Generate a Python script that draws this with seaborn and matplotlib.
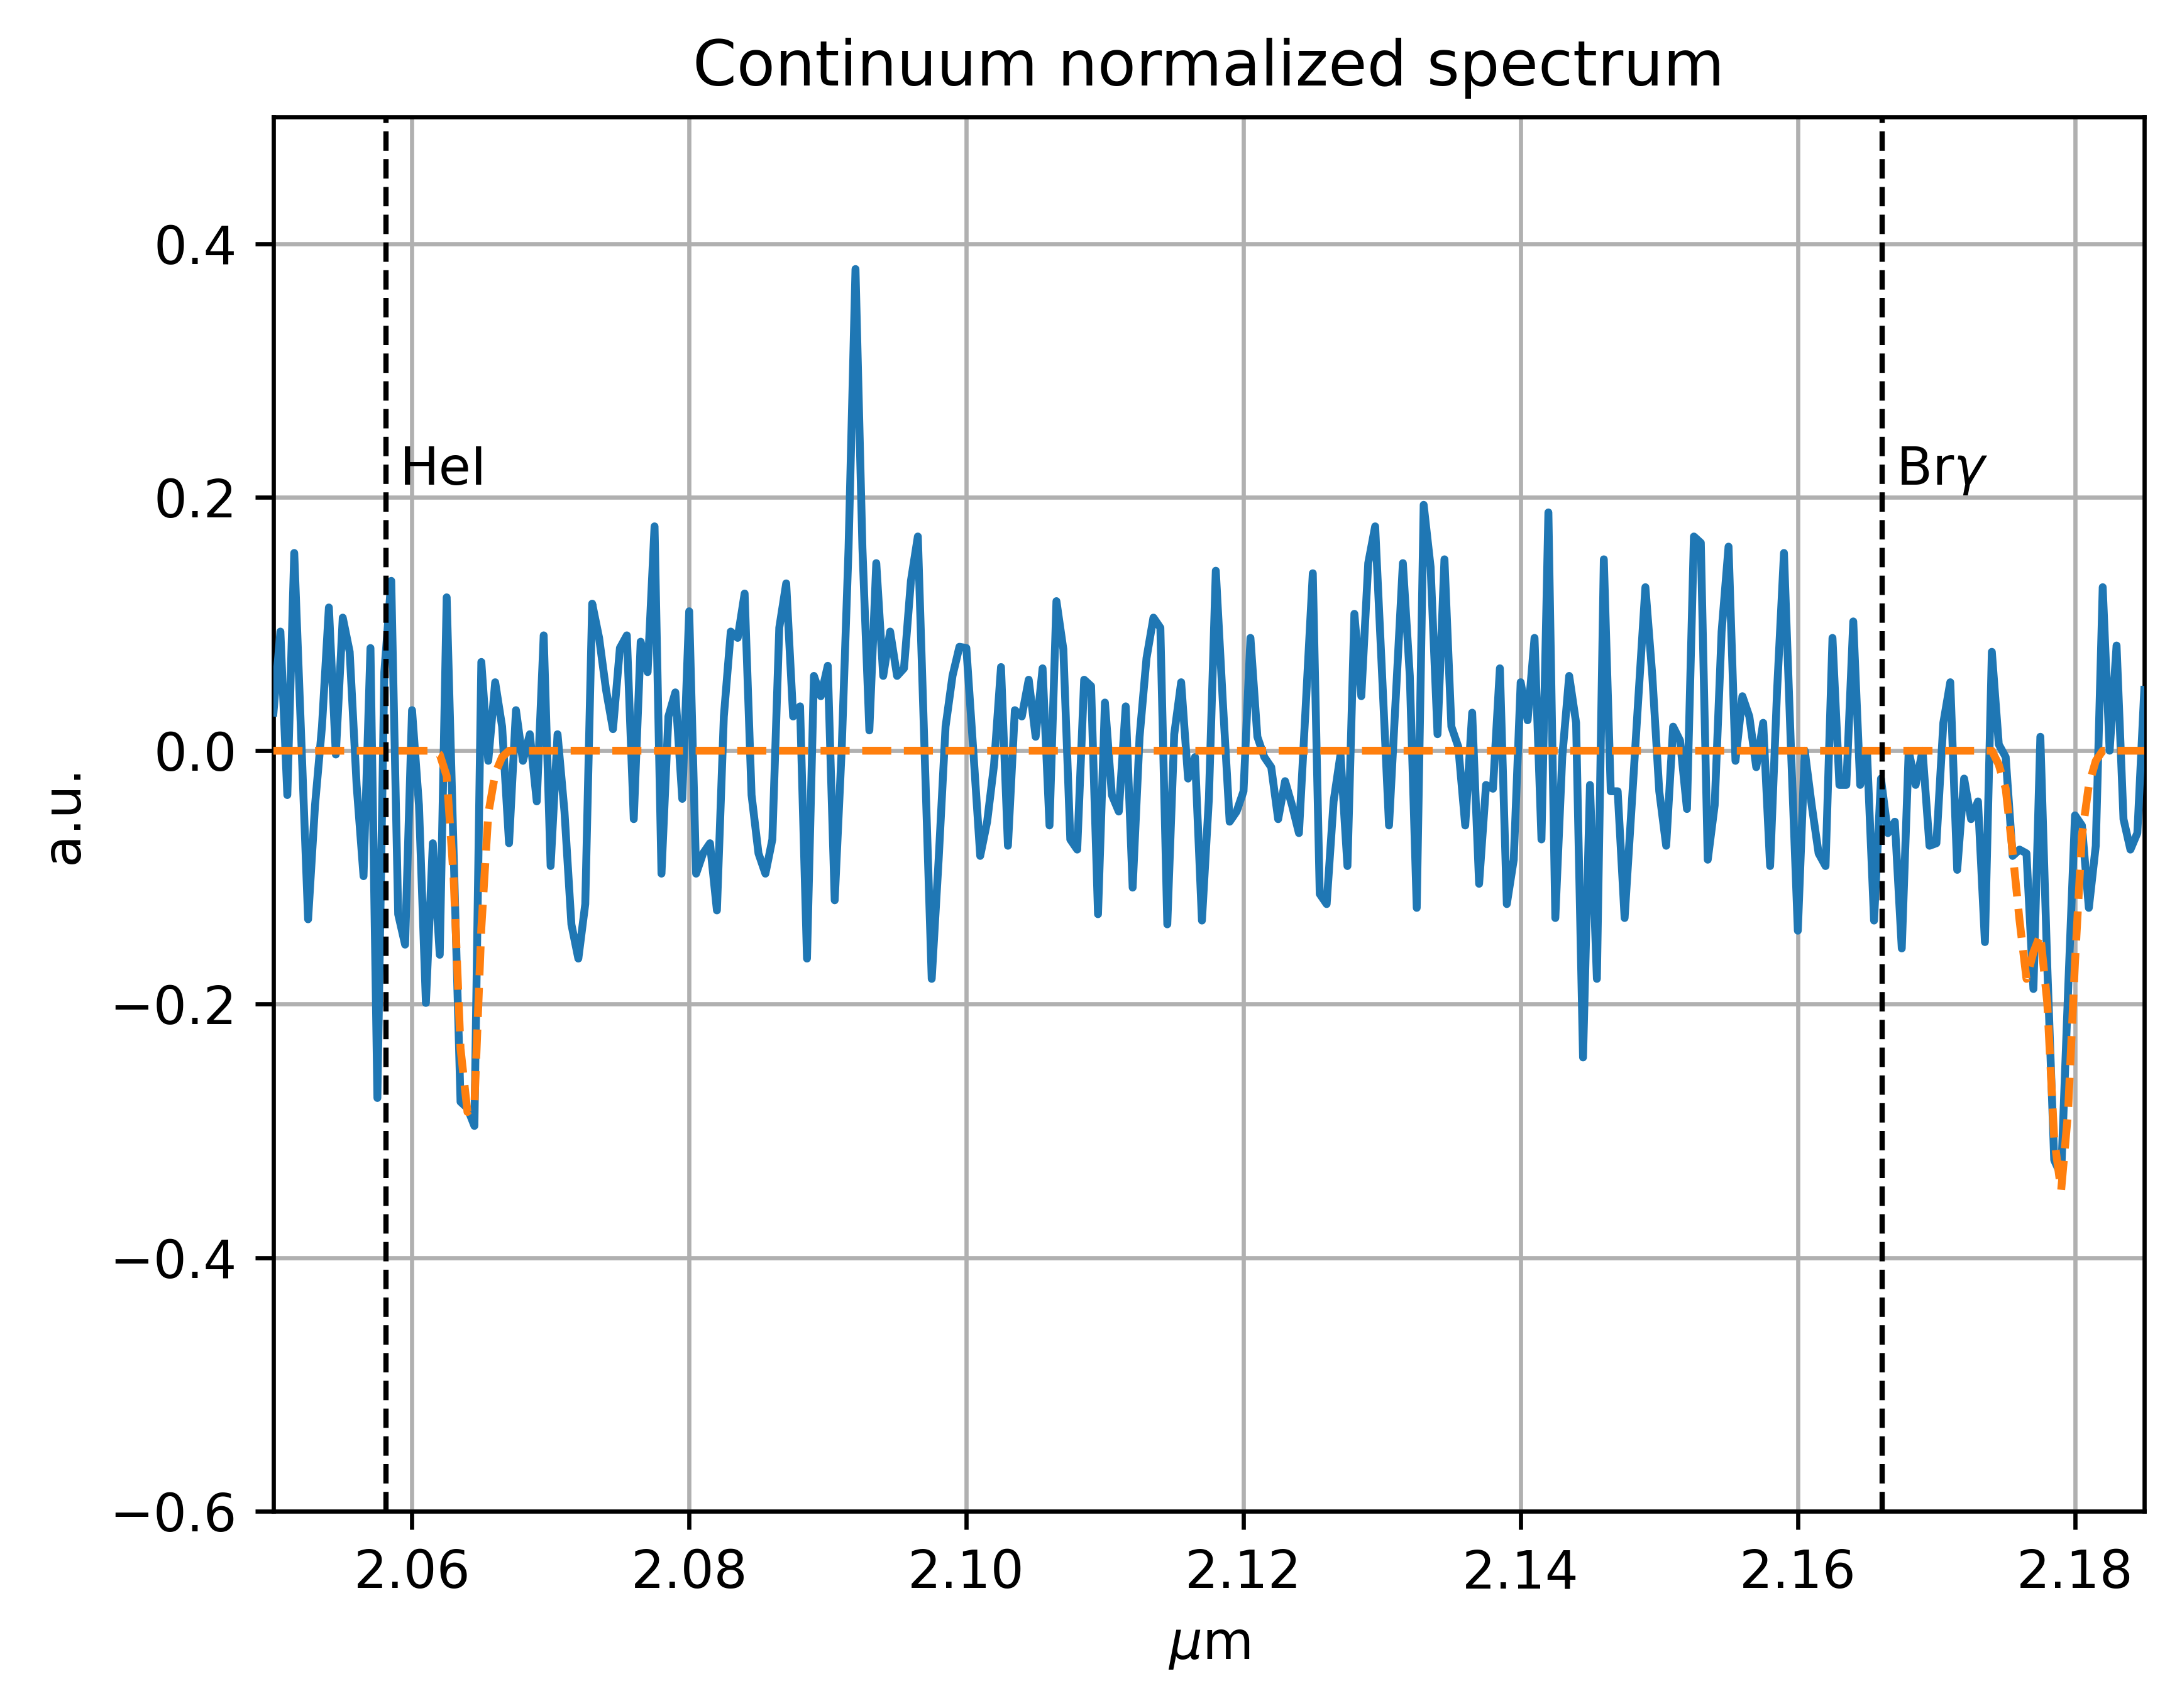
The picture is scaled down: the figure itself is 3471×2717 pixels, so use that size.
import numpy as np
import pandas as pd
import matplotlib
matplotlib.use("Agg")
import matplotlib.pyplot as plt
import seaborn as sns

# wavelength grid: 2.050 .. 2.185 um, step 0.0005
wl_start = 2.050
wl_step = 0.0005

# continuum normalized flux, one value per grid point
flux = [
    0.030, 0.094, -0.035, 0.156, 0.011, -0.133, -0.043, 0.019, 0.113, -0.003,
    0.105, 0.078, -0.027, -0.099, 0.081, -0.274, 0.062, 0.134, -0.129, -0.153,
    0.032, -0.043, -0.199, -0.073, -0.161, 0.121, -0.080, -0.277, -0.282, -0.296,
    0.070, -0.008, 0.054, 0.019, -0.073, 0.032, -0.008, 0.013, -0.040, 0.091,
    -0.091, 0.013, -0.048, -0.137, -0.164, -0.121, 0.116, 0.089, 0.048, 0.017,
    0.081, 0.091, -0.054, 0.086, 0.062, 0.177, -0.097, 0.027, 0.046, -0.038,
    0.110, -0.097, -0.081, -0.073, -0.126, 0.027, 0.094, 0.089, 0.124, -0.035,
    -0.081, -0.097, -0.070, 0.097, 0.132, 0.027, 0.035, -0.164, 0.059, 0.043,
    0.067, -0.118, 0.000, 0.160, 0.380, 0.160, 0.016, 0.148, 0.059, 0.094,
    0.059, 0.065, 0.134, 0.169, -0.005, -0.180, -0.086, 0.019, 0.059, 0.082,
    0.081, 0.000, -0.083, -0.056, -0.011, 0.066, -0.075, 0.032, 0.027, 0.056,
    0.011, 0.065, -0.059, 0.118, 0.080, -0.070, -0.078, 0.056, 0.051, -0.129,
    0.038, -0.035, -0.048, 0.035, -0.108, 0.011, 0.073, 0.105, 0.097, -0.137,
    0.013, 0.054, -0.022, -0.005, -0.134, -0.038, 0.142, 0.040, -0.056, -0.048,
    -0.032, 0.089, 0.011, -0.005, -0.013, -0.054, -0.024, -0.043, -0.065, 0.038,
    0.140, -0.113, -0.121, -0.040, -0.003, -0.091, 0.108, 0.043, 0.148, 0.177,
    0.060, -0.059, 0.045, 0.148, 0.059, -0.124, 0.194, 0.145, 0.013, 0.151,
    0.019, 0.003, -0.059, 0.030, -0.105, -0.027, -0.030, 0.065, -0.121, -0.086,
    0.054, 0.024, 0.089, -0.070, 0.188, -0.132, -0.005, 0.059, 0.022, -0.242,
    -0.027, -0.180, 0.151, -0.032, -0.032, -0.132, -0.045, 0.043, 0.129, 0.059,
    -0.032, -0.075, 0.019, 0.008, -0.046, 0.169, 0.164, -0.086, -0.043, 0.094,
    0.161, -0.008, 0.043, 0.027, -0.013, 0.022, -0.091, 0.047, 0.156, 0.003,
    -0.142, 0.000, -0.043, -0.081, -0.091, 0.089, -0.027, -0.027, 0.102, -0.027,
    -0.003, -0.134, -0.022, -0.065, -0.056, -0.156, 0.000, -0.027, 0.000, -0.075,
    -0.073, 0.022, 0.054, -0.094, -0.022, -0.054, -0.040, -0.151, 0.078, 0.005,
    -0.005, -0.083, -0.078, -0.081, -0.188, 0.011, -0.170, -0.323, -0.335, -0.190,
    -0.051, -0.059, -0.124, -0.075, 0.129, 0.000, 0.083, -0.054, -0.078, -0.065, 0.048,
]

# fitted line model (orange dashed), same grid
model_flat_a = [0.0] * 24
model_hei = [-0.003, -0.020, -0.100, -0.235, -0.285, -0.280, -0.140, -0.050, -0.018, -0.005]
model_flat_b = [0.0] * 214
model_brg = [0.0, -0.011, -0.030, -0.080, -0.134, -0.180, -0.159, -0.145,
             -0.199, -0.306, -0.347, -0.285, -0.167, -0.067, -0.027, -0.008]
model_flat_c = [0.0] * 7
model = model_flat_a + model_hei + model_flat_b + model_brg + model_flat_c

# line markers
line_names = ["HeI", r"Br$\gamma$"]
line_wl = [2.0581, 2.1661]

wl = wl_start + wl_step * np.arange(len(flux))
df = pd.DataFrame({"wl": wl, "flux": flux, "model": model})

fig = plt.figure(figsize=(3471 / 600, 2717 / 600), dpi=600)
ax = fig.add_axes([435 / 3471, 313 / 2717, 2976 / 3471, 2218 / 2717])

sns.lineplot(data=df, x="wl", y="flux", ax=ax, color="#1f77b4", lw=1.5, zorder=3)
sns.lineplot(data=df, x="wl", y="model", ax=ax, color="#ff7f0e", lw=1.5, ls="--", zorder=4)

for name, w in zip(line_names, line_wl):
    ax.axvline(w, color="k", ls="--", lw=1, zorder=5)
    ax.text(w + 0.001, 0.21, name, fontsize=10)

ax.set_xlim(2.05, 2.185)
ax.set_ylim(-0.6, 0.5)
ax.grid(True)
ax.set_title("Continuum normalized spectrum")
ax.set_xlabel(r"$\mu$m")
ax.set_ylabel("a.u.")

fig.savefig("out.png", dpi=600)
